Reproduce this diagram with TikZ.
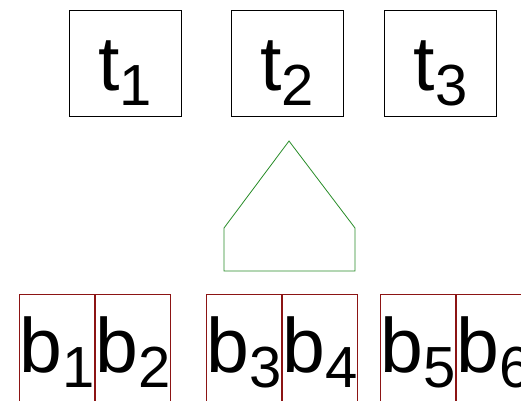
\documentclass[tikz,border=0pt]{standalone}
\usepackage{fontspec}
\setmainfont{Liberation Sans}
\usepackage{xcolor}
\usetikzlibrary{positioning}

\definecolor{boxred}{RGB}{140,20,20}
\definecolor{roofgreen}{RGB}{40,140,40}

% big letter with a lowered, smaller index
\newcommand{\idx}[2]{#1\raisebox{-15pt}{\fontsize{58}{58}\selectfont #2}}

\begin{document}
\begin{tikzpicture}[
    x=1pt, y=-1pt,
    node distance=0pt,
    tbox/.style={draw, line width=0.8pt, inner sep=0pt, minimum width=112pt, minimum height=106pt, text height=60pt, text depth=6pt, font=\fontsize{77}{77}\selectfont},
    bbox/.style={draw=boxred, line width=0.8pt, inner sep=0pt, text height=78pt, text depth=58pt, font=\fontsize{77}{77}\selectfont},
    roof/.style={draw=roofgreen, line width=0.8pt}
]
\useasboundingbox (0,0) rectangle (521,400);
\clip (0,0) rectangle (521,400);

% Top row of boxes.
\node[tbox] (t1) at (125,63) {\idx{t}{1}};
\node[tbox] (t2) at (287,63) {\idx{t}{2}};
\node[tbox] (t3) at (440.5,63) {\idx{t}{3}};

% Green house outline in the middle.
\draw[roof] (224,271) -- (224,228) -- (289,141) -- (355,228) -- (355,271) -- cycle;

% Bottom row: three pairs of touching boxes, cut by the lower edge.
\node[bbox, anchor=base west] (b1) at (19,372) {\idx{b}{1}};
\node[bbox, right=of b1] (b2) {\idx{b}{2}};
\node[bbox, anchor=base west] (b3) at (206,372) {\idx{b}{3}};
\node[bbox, right=of b3] (b4) {\idx{b}{4}};
\node[bbox, anchor=base west] (b5) at (380,372) {\idx{b}{5}};
\node[bbox, right=of b5] (b6) {\idx{b}{6}};

\end{tikzpicture}
\end{document}
